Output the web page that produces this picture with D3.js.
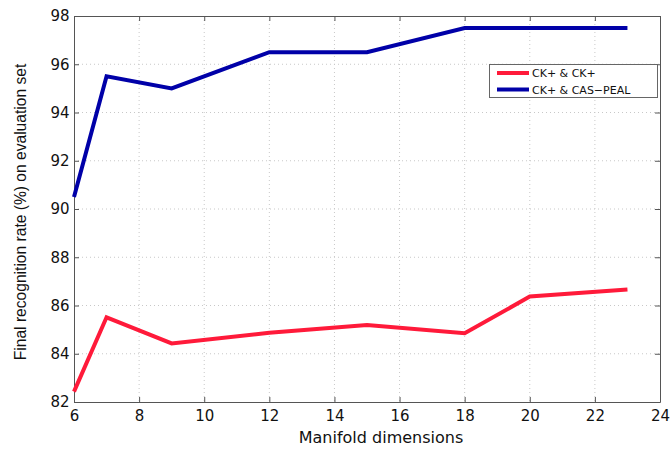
<!DOCTYPE html>
<html><head><meta charset="utf-8">
<script src="https://cdn.jsdelivr.net/npm/d3@7"></script>
<style>body{margin:0;background:#fff}svg{display:block}</style>
</head><body><svg id="c" width="670" height="449"></svg>
<script>
const dims = [6, 7, 9, 12, 15, 18, 20, 23];
const ckck = [82.43, 85.51, 84.43, 84.87, 85.19, 84.85, 86.37, 86.66];
const ckcas = [90.5, 95.5, 95.0, 96.5, 96.5, 97.5, 97.5, 97.5];
const xTicks = [6, 8, 10, 12, 14, 16, 18, 20, 22, 24];
const yTicks = [82, 84, 86, 88, 90, 92, 94, 96, 98];
const seriesNames = ["CK+ & CK+", "CK+ & CAS\u2212PEAL"];
const colors = ["#ff1a3a", "#0000a8"];

const svg = d3.select("#c");
const L = 74, R = 660, T = 16, B = 402;
const x = d3.scaleLinear().domain([6, 24]).range([L, R]);
const y = d3.scaleLinear().domain([82, 98]).range([B, T]);

// grid
const g = svg.append("g");
g.selectAll(".gx").data(xTicks.slice(1, -1)).join("line")
  .attr("x1", d => x(d)).attr("x2", d => x(d)).attr("y1", T).attr("y2", B)
  .attr("stroke", "#c8c8c8").attr("stroke-dasharray", "1,3");
g.selectAll(".gy").data(yTicks.slice(1, -1)).join("line")
  .attr("y1", d => y(d)).attr("y2", d => y(d)).attr("x1", L).attr("x2", R)
  .attr("stroke", "#c8c8c8").attr("stroke-dasharray", "1,3");

// axes
const fontFam = "DejaVu Sans, Verdana, sans-serif";
const xa = svg.append("g").attr("transform", `translate(0,${B})`)
  .call(d3.axisBottom(x).tickValues(xTicks).tickSizeInner(-5).tickSizeOuter(0).tickPadding(6));
const ya = svg.append("g").attr("transform", `translate(${L},0)`)
  .call(d3.axisLeft(y).tickValues(yTicks).tickSizeInner(-5).tickSizeOuter(0).tickPadding(6));
const xt = svg.append("g").attr("transform", `translate(0,${T})`)
  .call(d3.axisTop(x).tickValues(xTicks).tickSizeInner(-5).tickSizeOuter(0).tickFormat(""));
const yr = svg.append("g").attr("transform", `translate(${R},0)`)
  .call(d3.axisRight(y).tickValues(yTicks).tickSizeInner(-5).tickSizeOuter(0).tickFormat(""));
[xa, ya, xt, yr].forEach(a => {
  a.selectAll("path").attr("stroke", "#555").attr("stroke-width", 1);
  a.selectAll("line").attr("stroke", "#555");
  a.selectAll("text").attr("fill", "#111").style("font-family", fontFam).style("font-size", "15px");
});
xa.selectAll("text").attr("dy", "0.85em");
ya.selectAll("text").attr("dx", "0.1em");

// lines
const line = d3.line().x((d, i) => x(dims[i])).y(d => y(d));
[ckck, ckcas].forEach((s, k) => {
  svg.append("path").datum(s).attr("d", line)
    .attr("fill", "none").attr("stroke", colors[k]).attr("stroke-width", 4)
    .attr("stroke-linejoin", "miter");
});

// labels
svg.append("text").attr("x", 381).attr("y", 443).attr("text-anchor", "middle")
  .style("font-family", fontFam).style("font-size", "16px").attr("fill", "#111")
  .text("Manifold dimensions");
svg.append("text").attr("transform", "translate(26,212) rotate(-90)").attr("text-anchor", "middle")
  .style("font-family", "Liberation Sans, Arial, sans-serif").style("font-size", "15.6px").attr("fill", "#111")
  .text("Final recognition rate (%) on evaluation set");

// legend
const lg = svg.append("g");
lg.append("rect").attr("x", 489.5).attr("y", 64.5).attr("width", 168).attr("height", 33)
  .attr("fill", "#fff").attr("stroke", "#666");
seriesNames.forEach((n, k) => {
  const yy = 73 + k * 16.5;
  lg.append("line").attr("x1", 497).attr("x2", 529).attr("y1", yy).attr("y2", yy)
    .attr("stroke", colors[k]).attr("stroke-width", 4);
  lg.append("text").attr("x", 532).attr("y", yy + 4)
    .style("font-family", fontFam).style("font-size", "11px").attr("fill", "#111").text(n);
});
</script></body></html>
